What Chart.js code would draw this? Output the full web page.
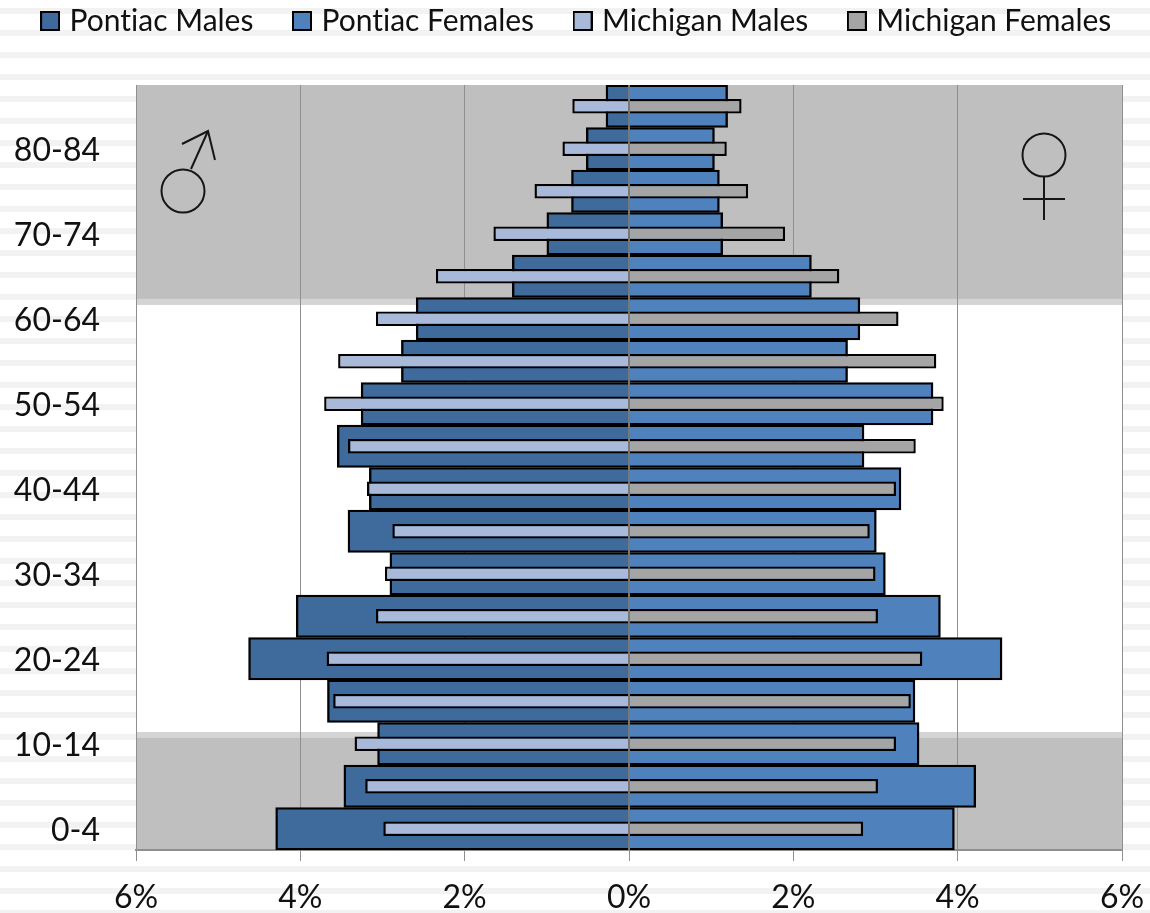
<!DOCTYPE html>
<html>
<head>
<meta charset="utf-8">
<title>Population pyramid</title>
<script src="https://cdn.jsdelivr.net/npm/chart.js@4"></script>
<style>
html,body{margin:0;padding:0;background-color:#fff;}
body{width:1150px;height:913px;overflow:hidden;
  background-image:linear-gradient(to bottom,#f2f2f2 0,#f2f2f2 6px,#fff 6px,#fff 22px);
  background-size:100% 22px;background-position:0 8px;}
canvas{display:block;}
</style>
</head>
<body>
<canvas id="c" width="1150" height="913"></canvas>
<script>
const ageGroups = ["0-4","5-9","10-14","15-19","20-24","25-29","30-34","35-39","40-44","45-49","50-54","55-59","60-64","65-69","70-74","75-79","80-84","85+"];
const pontiacMales   = [4.30,3.47,3.06,3.67,4.63,4.05,2.91,3.42,3.16,3.55,3.26,2.77,2.59,1.42,1.00,0.70,0.52,0.28];
const pontiacFemales = [3.96,4.22,3.53,3.48,4.54,3.79,3.12,3.01,3.31,2.86,3.70,2.66,2.81,2.22,1.14,1.10,1.04,1.20];
const michiganMales  = [2.99,3.21,3.34,3.60,3.68,3.08,2.97,2.88,3.19,3.42,3.71,3.54,3.08,2.35,1.65,1.15,0.81,0.69];
const michiganFemales= [2.85,3.03,3.25,3.43,3.57,3.03,3.00,2.93,3.25,3.49,3.83,3.74,3.28,2.56,1.90,1.45,1.19,1.37];

const FONT = "Lato";
const INK = "#111111";
const GRID = "#8f8f8f";
const negate = a => a.map(v => -v);

function series(label, data, color, wide){
  return {label, data, backgroundColor:color, borderColor:"#000000", borderWidth:2.4,
    borderSkipped:"start", grouped:false, categoryPercentage:1, barPercentage: wide ? 1 : 0.345,
    order: wide ? 2 : 1};
}
const datasets = [
  series("Pontiac Males", negate(pontiacMales), "#3f6a9c", true),
  series("Pontiac Females", pontiacFemales, "#4f81bd", true),
  series("Michigan Males", negate(michiganMales), "#a8b9d9", false),
  series("Michigan Females", michiganFemales, "#a5a5a5", false)
];

function swatch(color){
  const s = document.createElement("canvas"); s.width = 20; s.height = 20;
  const g = s.getContext("2d");
  g.fillStyle = color; g.fillRect(1,1,18,18);
  g.strokeStyle = "#000"; g.lineWidth = 2; g.strokeRect(1,1,18,18);
  return s;
}

const sheet = {
  id:"sheet",
  beforeInit(chart){
    const fit = chart.legend.fit;
    chart.legend.fit = function(){
      const w = this.maxWidth;
      this.maxWidth = 4000;
      fit.call(this);
      this.maxWidth = w; this.width = w; this.height = 85;
    };
  },
  afterLayout(chart){
    const l = chart.legend, pad = l.options.labels.padding;
    l.top = 6 - pad; l.bottom = 85; l.left = -96; l.right = 1254;
  },
  beforeDraw(chart){
    const {ctx, chartArea:a} = chart, h = a.bottom - a.top, w = a.right - a.left;
    ctx.textRendering = "optimizeSpeed";
    ctx.save();
    ctx.fillStyle = "#ffffff"; ctx.fillRect(a.left,a.top,w,h);
    ctx.fillStyle = "#bfbfbf";
    ctx.fillRect(a.left,a.top,w,h*0.2797);
    ctx.fillRect(a.left,a.top+h*0.8536,w,h*0.1464);
    ctx.fillStyle = "#d4d4d4";
    ctx.fillRect(a.left,a.top+h*0.2797,w,h*0.0078);
    ctx.fillRect(a.left,a.top+h*0.8458,w,h*0.0078);
    ctx.restore();
  },
  afterDatasetsDraw(chart){
    const {ctx, chartArea:a, scales} = chart, x0 = scales.x.getPixelForValue(0);
    ctx.save();
    ctx.strokeStyle = "#777777"; ctx.lineWidth = 2;
    ctx.beginPath(); ctx.moveTo(x0,a.top); ctx.lineTo(x0,a.bottom); ctx.stroke();
    ctx.strokeStyle = "#161616"; ctx.lineWidth = 2;
    ctx.beginPath(); ctx.arc(183,191,21.5,0,Math.PI*2); ctx.stroke();
    ctx.beginPath(); ctx.moveTo(191,169); ctx.lineTo(208,131); ctx.stroke();
    ctx.beginPath(); ctx.moveTo(182,144); ctx.lineTo(208,131); ctx.lineTo(215,160); ctx.stroke();
    ctx.beginPath(); ctx.arc(1044,155,21.5,0,Math.PI*2); ctx.stroke();
    ctx.beginPath(); ctx.moveTo(1044,177); ctx.lineTo(1044,220); ctx.stroke();
    ctx.beginPath(); ctx.moveTo(1023,199); ctx.lineTo(1065,199); ctx.stroke();
    ctx.restore();
  }
};

new Chart(document.getElementById("c"), {
  type:"bar",
  data:{labels:ageGroups, datasets},
  plugins:[sheet],
  options:{
    indexAxis:"y", responsive:false, animation:false,
    layout:{autoPadding:false, padding:{top:0,left:0,right:28,bottom:0}},
    plugins:{
      title:{display:false}, tooltip:{enabled:false},
      legend:{
        display:true, position:"top", align:"center",
        labels:{
          font:{family:FONT,size:30}, color:INK, padding:44,
          usePointStyle:true, boxWidth:9, pointStyleWidth:9,
          generateLabels(chart){
            return chart.data.datasets.map((d,i)=>({
              text:d.label, datasetIndex:i, pointStyle:swatch(d.backgroundColor),
              fillStyle:d.backgroundColor, strokeStyle:"#000", lineWidth:2, hidden:false, fontColor:INK
            }));
          }
        }
      }
    },
    scales:{
      x:{
        type:"linear", position:"bottom", min:-6, max:6,
        afterFit(s){ s.height = 63; s.paddingLeft = 0; s.paddingRight = 0; },
        grid:{color:GRID, lineWidth:1, tickLength:11, drawTicks:true, tickColor:GRID},
        border:{display:true, color:GRID, width:2},
        ticks:{stepSize:2, padding:17, maxRotation:0, autoSkip:false, color:INK,
          font:{family:FONT,size:32},
          callback:v => Math.abs(v) + "%"}
      },
      y:{
        type:"category", reverse:true,
        afterFit(s){ s.width = 136; s.paddingTop = 0; s.paddingBottom = 0; },
        grid:{display:false, drawTicks:false},
        border:{display:false},
        ticks:{autoSkip:false, padding:36, labelOffset:1.5, color:INK, font:{family:FONT,size:32},
          callback(v,i){ return i % 2 === 0 ? ageGroups[i] : ""; }}
      }
    }
  }
});
</script>
</body>
</html>
